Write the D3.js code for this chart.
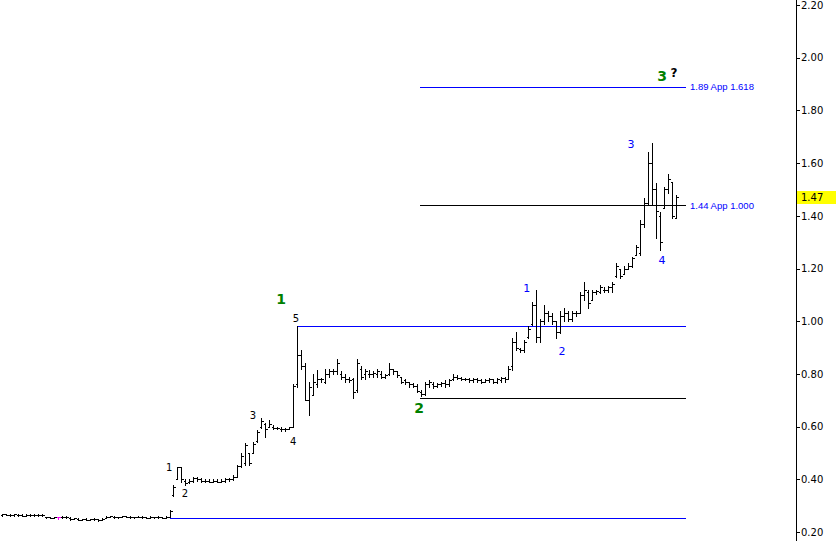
<!DOCTYPE html>
<html><head><meta charset="utf-8">
<script src="https://cdn.jsdelivr.net/npm/d3@7/dist/d3.min.js"></script>
<style>
html,body{margin:0;padding:0;background:#fff;}
svg{display:block;}
</style></head>
<body>
<svg id="chart" width="836" height="541"></svg>
<script>
// ---- data ----
const opens = [
.266,.268,.266,.264,.266,.264,.262,.266,.264,.266,.264,.256,.256,.254,.256,.256,.258,.254,.250,.250,.246,.248,.246,.248,.248,.246,.254,.258,.258,.256,.258,.260,.258,.256,.256,.258,.256,.254,.258,.256,.256,.254,.258,
.34,.40,.445,.395,.39,.395,.405,.40,.395,.395,.39,.395,.39,.395,.40,.40,.41,.45,.46,.50,.50,.545,.60,.61,.60,.60,.595,.59,.59,.59,
.60,.76,.87,.83,.70,.72,.76,.78,.77,.80,.81,.81,.80,.79,.78,.78,.74,.82,.80,.80,.80,.80,.80,.79,.80,.82,.81,.79,.775,.77,.76,.755,.73,.725,.76,.76,.755,.76,.765,.76,.78,.79,.785,.78,.78,.775,.78,.775,.77,.775,.78,.77,.775,.785,.78,.83,.92,.895,.89,.94,.99,1.06,.94,1.0,1.03,1.02,1.0,.96,1.02,1.03,1.01,1.03,1.03,1.10,1.11,1.08,1.11,1.11,1.12,1.12,1.13,1.17,1.20,1.18,1.20,1.21,1.25,1.26,1.37,1.45,1.60,1.50,1.40,1.43,1.50,1.53,1.39];
const highs = [
.270,.270,.268,.270,.270,.268,.270,.270,.270,.270,.268,.258,.258,.258,.258,.260,.260,.256,.254,.252,.250,.252,.250,.252,.250,.252,.260,.262,.260,.258,.262,.262,.260,.258,.260,.260,.258,.260,.258,.260,.258,.260,.284,
.38,.447,.447,.40,.40,.41,.41,.405,.40,.40,.40,.40,.40,.405,.405,.416,.454,.50,.538,.50,.542,.587,.633,.614,.625,.605,.60,.60,.595,.60,
.76,.982,.89,.84,.77,.80,.815,.785,.82,.82,.82,.855,.81,.80,.79,.785,.855,.83,.82,.815,.81,.82,.81,.80,.84,.82,.81,.79,.78,.77,.766,.76,.74,.77,.775,.77,.765,.77,.775,.78,.80,.795,.79,.785,.785,.785,.785,.78,.78,.785,.78,.785,.79,.79,.83,.937,.96,.90,.93,.98,1.073,1.118,1.01,1.06,1.04,1.03,1.0,1.04,1.05,1.04,1.04,1.04,1.11,1.15,1.118,1.12,1.12,1.137,1.13,1.135,1.15,1.22,1.20,1.21,1.22,1.244,1.29,1.384,1.467,1.642,1.676,1.524,1.414,1.51,1.56,1.53,1.48];
const lows = [
.262,.264,.262,.262,.262,.260,.262,.260,.262,.262,.262,.252,.252,.254,.250,.254,.254,.246,.248,.244,.244,.244,.244,.246,.242,.244,.252,.256,.254,.254,.256,.256,.254,.254,.256,.254,.252,.254,.254,.254,.252,.254,.256,
.337,.40,.39,.38,.385,.39,.395,.39,.39,.39,.39,.39,.39,.39,.395,.397,.409,.447,.454,.454,.50,.542,.595,.561,.598,.59,.59,.585,.585,.59,
.598,.75,.82,.70,.644,.72,.75,.77,.766,.79,.80,.80,.78,.77,.77,.71,.73,.78,.78,.79,.79,.79,.785,.785,.797,.80,.79,.765,.76,.75,.75,.73,.715,.72,.75,.745,.75,.755,.75,.755,.775,.78,.775,.775,.77,.77,.77,.765,.77,.77,.765,.765,.77,.77,.78,.815,.89,.885,.885,.937,.986,.92,.92,.99,1.0,.99,.937,.955,1.0,1.0,1.0,1.02,1.03,1.08,1.05,1.08,1.105,1.107,1.11,1.11,1.11,1.168,1.164,1.18,1.20,1.206,1.25,1.25,1.357,1.44,1.44,1.316,1.27,1.43,1.487,1.39,1.39];
const closes = [
.268,.266,.264,.268,.266,.262,.266,.264,.266,.264,.266,.256,.254,.256,.256,.258,.256,.250,.252,.246,.248,.246,.248,.250,.246,.250,.258,.260,.256,.256,.260,.258,.256,.256,.258,.256,.254,.258,.256,.258,.254,.258,.280,
.37,.445,.40,.385,.395,.405,.40,.395,.395,.39,.395,.39,.395,.40,.40,.41,.45,.49,.53,.46,.535,.58,.62,.59,.61,.595,.595,.59,.59,.598,
.755,.87,.83,.70,.75,.77,.78,.78,.80,.81,.81,.84,.79,.78,.775,.73,.84,.79,.81,.80,.805,.81,.79,.795,.82,.81,.795,.77,.77,.76,.755,.735,.725,.76,.77,.755,.76,.765,.76,.775,.79,.785,.78,.78,.775,.78,.775,.77,.775,.78,.77,.78,.785,.78,.82,.92,.90,.89,.92,.97,1.06,.94,1.0,1.03,1.02,1.0,.96,1.02,1.03,1.01,1.03,1.03,1.10,1.12,1.07,1.11,1.115,1.13,1.12,1.13,1.14,1.21,1.17,1.20,1.21,1.24,1.28,1.37,1.45,1.60,1.50,1.42,1.30,1.50,1.54,1.40,1.47];
const highlightBar = 14;            // magenta bar
const lastPrice = 1.47;
const yTicks = [0.20,0.40,0.60,0.80,1.00,1.20,1.40,1.60,1.80,2.00,2.20];

// horizontal levels
const levelPrices = [1.89, 1.44, 0.98, 0.71, 0.253];
const levelStarts = [104.8, 104.8, 74, 104.8, 42.1];
const levelEnds   = [171.5, 171.5, 171.5, 171.5, 171.5];
const levelColors = ["blue","black","blue","black","blue"];
const levelLabels = ["1.89 App 1.618","1.44 App 1.000","","",""];

// wave labels
const waveText  = ["1","5","3","4","1","2","2","1","2","3","4","3","?"];
const waveIdx   = [70,73.7,62.9,73,41.9,45.9,104.6,131.6,140.4,157.7,165.5,165.5,168.5];
const wavePrice = [1.084,1.012,0.644,0.545,0.447,0.348,0.671,1.126,0.887,1.672,1.232,1.93,1.942];
const waveStyle = ["green","small","small","small","small","small","green","blue","blue","blue","blue","green","q"];

// ---- drawing ----
const svg = d3.select("#chart");
const N = closes.length;
const x = d3.scaleLinear().domain([0, N-1]).range([2, 676]);
const y = d3.scaleLinear().domain([0.2, 2.2]).range([532, 5]);
const px = v => Math.round(x(v)) + 0.5;
const py = v => Math.round(y(v)) + 0.5;
const FONT = "'DejaVu Sans',sans-serif";

const g = svg.append("g").attr("shape-rendering","crispEdges");

// levels
levelPrices.forEach((p,k)=>{
  g.append("line")
    .attr("x1", Math.round(x(levelStarts[k]))).attr("x2", Math.round(x(levelEnds[k])))
    .attr("y1", py(p)).attr("y2", py(p))
    .attr("stroke", levelColors[k]==="blue" ? "#0000ff" : "#000")
    .attr("stroke-width", 1);
  if (levelLabels[k]) {
    svg.append("text").attr("x", Math.round(x(levelEnds[k])) + 4).attr("y", y(p))
      .attr("dy","0.35em")
      .style("font-family","'Liberation Sans',Arial,sans-serif").style("font-size","9.5px")
      .attr("fill","#0000ff").text(levelLabels[k]);
  }
});

// OHLC bars
const bars = g.selectAll("g.bar").data(d3.range(N)).join("g").attr("class","bar");
const col = i => i===highlightBar ? "#ff00ff" : "#000";
bars.append("line").attr("stroke", col).attr("x1", i=>px(i)).attr("x2", i=>px(i))
  .attr("y1", i=>Math.round(y(highs[i]))).attr("y2", i=>Math.round(y(lows[i]))+1);
bars.append("line").attr("stroke", col).attr("x1", i=>px(i)-2).attr("x2", i=>px(i))
  .attr("y1", i=>py(opens[i])).attr("y2", i=>py(opens[i]));
bars.append("line").attr("stroke", col).attr("x1", i=>px(i)).attr("x2", i=>px(i)+2.5)
  .attr("y1", i=>py(closes[i])).attr("y2", i=>py(closes[i]));

// wave labels
waveText.forEach((t,k)=>{
  const s = waveStyle[k];
  const el = svg.append("text").attr("x", x(waveIdx[k])).attr("y", y(wavePrice[k]))
    .attr("dy","0.36em").attr("text-anchor","middle").style("font-family",FONT).text(t);
  if (s==="green") el.attr("fill","#008000").style("font-size","14px").style("font-weight","bold");
  else if (s==="blue") el.attr("fill","#0000ff").style("font-size","11px");
  else if (s==="q") el.attr("fill","#000").style("font-size","12px").style("font-weight","bold");
  else el.attr("fill","#000").style("font-size","10px");
});

// right axis
const axisX = 796;
svg.append("line").attr("x1",axisX+0.5).attr("x2",axisX+0.5).attr("y1",0).attr("y2",541)
  .attr("stroke","#000").attr("shape-rendering","crispEdges");
const axis = d3.axisRight(y).tickValues(yTicks).tickFormat(d3.format(".2f")).tickSize(4).tickPadding(1);
const ag = svg.append("g").attr("transform",`translate(${axisX},0)`).call(axis);
ag.select(".domain").remove();
ag.selectAll("line").attr("shape-rendering","crispEdges");
ag.selectAll("text").style("font-size","10px").style("font-family",FONT).attr("fill","#000");

// last price box
svg.append("rect").attr("x",axisX+1).attr("y",Math.round(y(lastPrice))-6).attr("width",836-axisX-1).attr("height",13)
  .attr("fill","#ffff00");
svg.append("text").attr("x",axisX+5).attr("y",y(lastPrice)).attr("dy","0.36em")
  .style("font-size","10px").style("font-family",FONT).attr("fill","#000").text(d3.format(".2f")(lastPrice));
</script>
</body></html>
